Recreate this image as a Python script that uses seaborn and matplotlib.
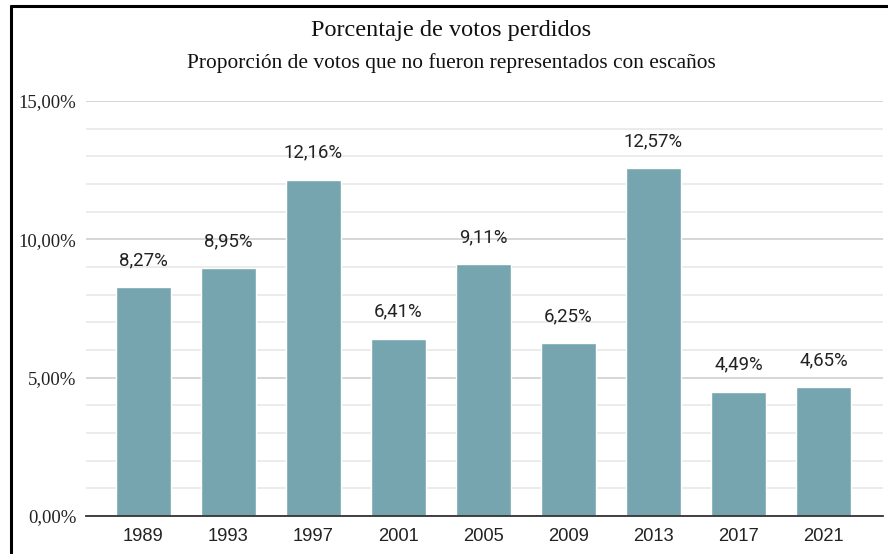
import matplotlib
matplotlib.use("Agg")
import matplotlib.pyplot as plt
from matplotlib.lines import Line2D
from matplotlib.ticker import MultipleLocator
import pandas as pd
import seaborn as sns

# datos
anios = ["1989", "1993", "1997", "2001", "2005", "2009", "2013", "2017", "2021"]
votos_perdidos = [8.27, 8.95, 12.16, 6.41, 9.11, 6.25, 12.57, 4.49, 4.65]
etiquetas_y = ["0,00%", "5,00%", "10,00%", "15,00%"]

df = pd.DataFrame({"anio": anios, "pct": votos_perdidos})

sns.set_theme(style="white")
plt.rcParams["font.family"] = ["Liberation Sans", "DejaVu Sans"]

fig = plt.figure(figsize=(8.88, 5.54), dpi=100)
ax = fig.add_axes([86 / 888, 1 - 516 / 554, (883 - 86) / 888, (516 - 101) / 554])

sns.barplot(data=df, x="anio", y="pct", color="#76A5AF", saturation=1,
            width=0.65, ax=ax, zorder=3)

ax.set_ylim(0, 15)
ax.set_xlim(-0.676, 8.7)
ax.yaxis.set_minor_locator(MultipleLocator(1))
ax.set_yticks([0, 5, 10, 15])
ax.set_yticklabels(etiquetas_y, family="Liberation Serif", fontsize=13.5, color="#222222")
ax.grid(True, which="major", axis="y", color="#cccccc", linewidth=1.1, zorder=0)
ax.grid(True, which="minor", axis="y", color="#e6e6e6", linewidth=1.1, zorder=0)
ax.tick_params(axis="y", which="both", length=0, pad=7)
ax.tick_params(axis="x", length=0, pad=8.5, labelsize=13.2, labelcolor="#222222")
ax.set_xlabel("")
ax.set_ylabel("")
for s in ["top", "right", "left"]:
    ax.spines[s].set_visible(False)
ax.spines["bottom"].set_color("#333333")
ax.spines["bottom"].set_linewidth(1.3)
ax.spines["bottom"].set_zorder(4)

for i, v in enumerate(votos_perdidos):
    ax.annotate(f"{v:.2f}%".replace(".", ","), (i, v), xytext=(0, 15.8),
                textcoords="offset points", ha="center", va="baseline",
                family="Roboto", fontsize=13.4, color="#222222")

cx = 451.5 / 888
fig.text(cx, 1 - 36 / 554, "Porcentaje de votos perdidos", ha="center", va="baseline",
         family="Liberation Serif", fontsize=17.5, color="#111111")
fig.text(cx, 1 - 68 / 554, "Proporción de votos que no fueron representados con escaños",
         ha="center", va="baseline", family="Liberation Serif", fontsize=15.4, color="#111111")

# borde (solo arriba e izquierda visibles en la captura)
fig.add_artist(Line2D([11 / 888, 11 / 888], [0, 1 - 5.5 / 554], transform=fig.transFigure,
                      color="black", linewidth=2.2))
fig.add_artist(Line2D([11 / 888, 1], [1 - 5.5 / 554, 1 - 5.5 / 554], transform=fig.transFigure,
                      color="black", linewidth=2.2))

fig.savefig("out.png", dpi=100)
